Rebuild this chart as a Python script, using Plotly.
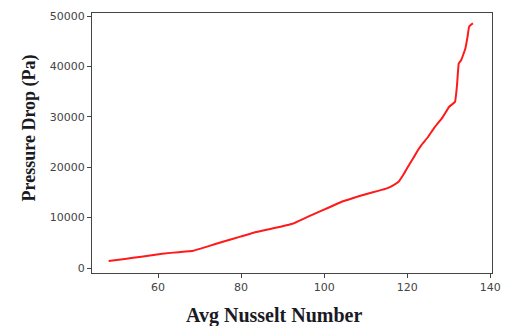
import plotly.graph_objects as go

nusselt = [48.1, 52.0, 56.0, 61.0, 65.0, 68.5, 72.0, 76.0, 79.8, 83.0, 86.5,
           89.5, 92.4, 95.0, 97.5, 101.0, 104.2, 107.0, 110.0, 113.0,
           115.1, 116.6, 117.9, 119.2, 120.6, 121.8, 122.6, 123.4, 125.0,
           126.4, 128.5, 130.1, 131.5, 132.0, 132.4, 133.0, 134.0, 134.5,
           134.9, 135.8]
pressure = [1400, 1800, 2250, 2850, 3150, 3430, 4300, 5300, 6220, 7000, 7650,
            8200, 8780, 9750, 10710, 11950, 13150, 13900, 14650, 15300,
            15800, 16400, 17120, 18700, 20700, 22300, 23410, 24400, 26000,
            27700, 29900, 32000, 33000, 36500, 40620, 41270, 43600, 45800,
            47900, 48550]

x_ticks = [60, 80, 100, 120, 140]
y_ticks = [0, 10000, 20000, 30000, 40000, 50000]

W, H = 511, 326
L, R, T, B = 92, 10, 13, 53
pw, ph = W - L - R, H - T - B

fig = go.Figure()
fig.add_trace(go.Scatter(x=nusselt, y=pressure, mode="lines",
                         line=dict(color="#ff1a1a", width=2, shape="spline",
                                   smoothing=0.3),
                         showlegend=False))

axis_common = dict(showgrid=False, zeroline=False, showline=True, mirror=True,
                   linecolor="#444444", linewidth=1, ticks="outside", ticklen=4,
                   tickcolor="#444444",
                   tickfont=dict(family="DejaVu Sans", size=11, color="#444444"))

fig.update_xaxes(range=[44.1, 140.4], tickvals=x_ticks, tickformat="d",
                 **axis_common)
fig.update_yaxes(range=[-990, 50600], tickvals=y_ticks, tickformat="d",
                 **axis_common)

fig.add_annotation(text="<b>Avg Nusselt Number</b>",
                   x=(278 - L) / pw, y=(H - 315 - B) / ph,
                   xref="paper", yref="paper", xanchor="center",
                   yanchor="middle", showarrow=False,
                   font=dict(family="Liberation Serif", size=20, color="#1a1a24"))
fig.add_annotation(text="<b>Pressure Drop (Pa)</b>",
                   x=(28 - L) / pw, y=(H - 128 - B) / ph,
                   xref="paper", yref="paper", xanchor="center",
                   yanchor="middle", showarrow=False, textangle=-90,
                   font=dict(family="Liberation Serif", size=18, color="#1a1a24"))

fig.update_layout(width=W, height=H, margin=dict(l=L, r=R, t=T, b=B),
                  plot_bgcolor="white", paper_bgcolor="white")
fig.write_html("out.html")
